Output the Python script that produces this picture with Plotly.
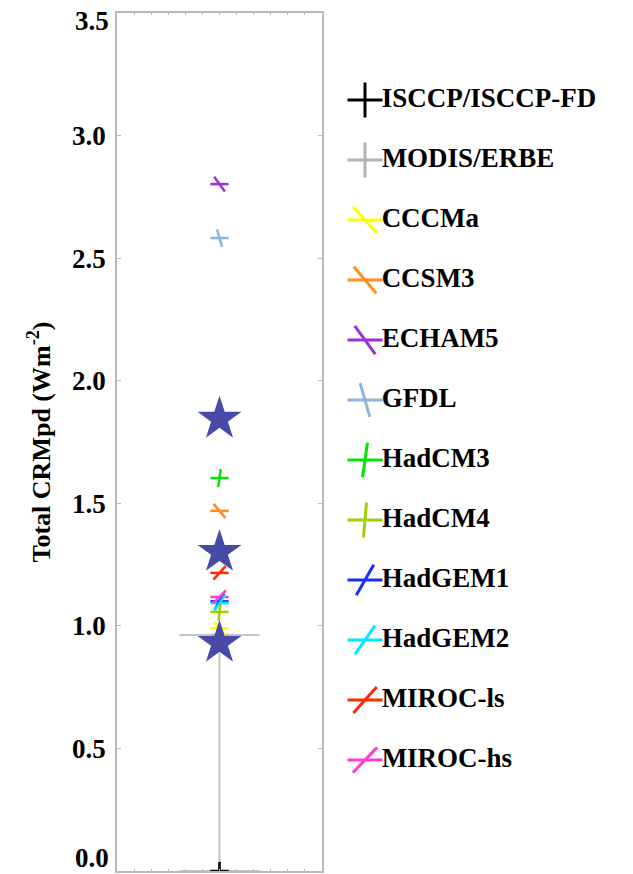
import plotly.graph_objects as go

# ---------------- data ----------------
names = ["ISCCP/ISCCP-FD", "MODIS/ERBE", "CCCMa", "CCSM3", "ECHAM5", "GFDL",
         "HadCM3", "HadCM4", "HadGEM1", "HadGEM2", "MIROC-ls", "MIROC-hs"]
values = [0.0, 0.963, 0.99, 1.469, 2.802, 2.582,
          1.603, 1.057, 1.10, 1.093, 1.216, 1.118]
colors = ["#000000", "#b4b4b4", "#ffff00", "#ff8c1a", "#9b30d9", "#8cb4dc",
          "#00e600", "#a0d000", "#1a2cff", "#00e8ff", "#ff2a00", "#ff3cd2"]
tilts = [0, 0, -42, -40, -36, -16, 8, 5, 30, 35, 42, 44]
star_values = [1.844, 1.301, 0.930]
modis_bar_minus = [0.963]
yticks = [0.0, 0.5, 1.0, 1.5, 2.0, 2.5, 3.0, 3.5]

FONT = "Liberation Serif"
AX_COL = "#b8b8b8"
TICKFONT = dict(family=FONT, size=27, color="black", weight="bold")

fig = go.Figure()

# grey vertical bar + cap for MODIS/ERBE
fig.add_trace(go.Scatter(
    x=[0], y=[values[1]], mode="markers",
    marker=dict(size=1, color="rgba(0,0,0,0)"),
    error_y=dict(type="data", symmetric=False, array=[0], arrayminus=modis_bar_minus,
                 color="#c4c4c4", thickness=2, width=40),
    showlegend=False, hoverinfo="skip", xaxis="x", yaxis="y"))

# model markers: horizontal stroke + tilted stroke
xs = [0] * len(values)
fig.add_trace(go.Scatter(
    x=xs, y=values, mode="markers",
    marker=dict(symbol="line-ew", size=13, line=dict(color=colors, width=2.5)),
    showlegend=False, xaxis="x", yaxis="y", text=names, hoverinfo="text+y"))
fig.add_trace(go.Scatter(
    x=xs, y=values, mode="markers",
    marker=dict(symbol="line-ns", size=13, angle=tilts, line=dict(color=colors, width=2.5)),
    showlegend=False, xaxis="x", yaxis="y", text=names, hoverinfo="text+y"))

# stars
fig.add_trace(go.Scatter(
    x=[0] * len(star_values), y=star_values, mode="markers",
    marker=dict(symbol="star", size=33, color="#454ba6", line=dict(width=0)),
    showlegend=False, xaxis="x", yaxis="y"))

# ---------------- custom legend (second subplot) ----------------
idx = list(range(len(names)))
fig.add_trace(go.Scatter(
    x=[0] * len(names), y=idx, mode="markers+text", text=names,
    textposition="middle right",
    textfont=dict(family=FONT, size=27, color="black", weight="bold"),
    marker=dict(symbol="line-ew", size=25, line=dict(color=colors, width=3)),
    showlegend=False, xaxis="x2", yaxis="y2", hoverinfo="skip", cliponaxis=False))
fig.add_trace(go.Scatter(
    x=[0] * len(names), y=idx, mode="markers",
    marker=dict(symbol="line-ns", size=25, angle=tilts, line=dict(color=colors, width=3)),
    showlegend=False, xaxis="x2", yaxis="y2", hoverinfo="skip", cliponaxis=False))

# end tick labels (shifted inward so they stay inside the page)
end_labels = [(yticks[0], 13), (yticks[-1], -8)]
annotations = [dict(text=f"{v:.1f}", x=0, xref="x domain", y=v, yref="y",
                    xanchor="right", yanchor="middle", xshift=-6, yshift=s,
                    showarrow=False, font=TICKFONT) for v, s in end_labels]

fig.update_layout(
    width=633, height=874,
    margin=dict(l=117, r=0, t=13, b=3),
    paper_bgcolor="white", plot_bgcolor="white",
    showlegend=False,
    xaxis=dict(domain=[0, 205 / 516], range=[-1, 1], showgrid=False, zeroline=False,
               showline=True, linecolor=AX_COL, linewidth=1.5, mirror="allticks",
               ticks="inside", ticklen=2, tickcolor=AX_COL, dtick=1 / 6, tick0=0,
               showticklabels=False, fixedrange=True),
    yaxis=dict(range=[0, 3.5], showgrid=False, zeroline=False,
               showline=True, linecolor=AX_COL, linewidth=1.5, mirror="allticks",
               ticks="inside", ticklen=4, tickcolor=AX_COL,
               tickvals=yticks[1:-1],
               ticktext=[f"{v:.1f}" for v in yticks[1:-1]],
               tickfont=TICKFONT,
               ticklabelstandoff=4,
               title=dict(text="Total CRMpd (Wm<sup>-2</sup>)", standoff=14,
                          font=dict(family=FONT, size=26, color="black", weight="bold"))),
    xaxis2=dict(domain=[233 / 516, 1], range=[-15, 268], visible=False, fixedrange=True),
    yaxis2=dict(anchor="x2", range=[12.85, -1.45], visible=False, fixedrange=True),
    annotations=annotations,
)

fig.write_html("out.html")
